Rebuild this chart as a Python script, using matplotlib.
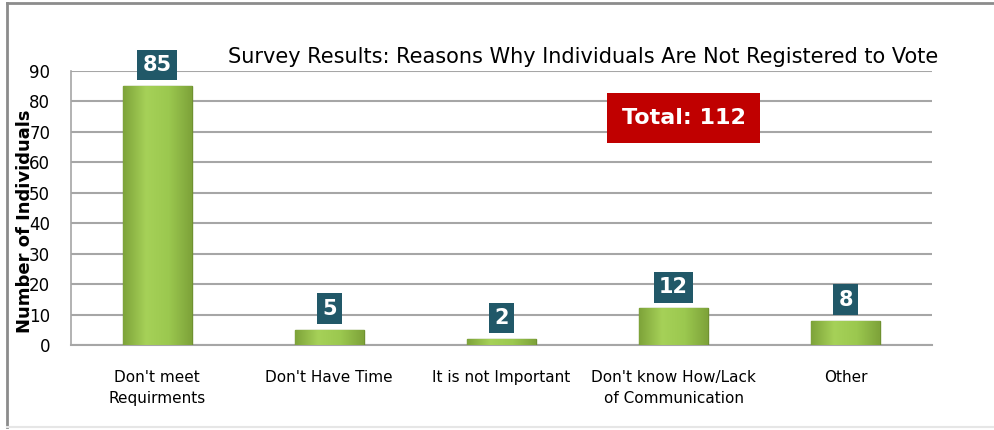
import matplotlib.pyplot as plt
import numpy as np
from matplotlib.patches import Rectangle
from matplotlib.lines import Line2D
from matplotlib.colors import LinearSegmentedColormap

categories = ["Don't meet\nRequirments", "Don't Have Time", "It is not Important",
              "Don't know How/Lack\nof Communication", "Other"]
counts = [85, 5, 2, 12, 8]
y_ticks = [0, 10, 20, 30, 40, 50, 60, 70, 80, 90]
total = 112

fig = plt.figure(figsize=(9.94, 4.30), dpi=100)
ax = fig.add_axes([0.0714, 0.1977, 0.8662, 0.6372])

x = np.arange(len(categories))
bars = ax.bar(x, counts, width=0.4, color='#97C24B', edgecolor='#6F9130', linewidth=1.0, zorder=3)

# shaded look on the bars
green = LinearSegmentedColormap.from_list('g', ['#7EA33A', '#A6D158', '#9BC84F', '#7EA33A'])
grad = np.linspace(0, 1, 100).reshape(1, -1)
for b in bars:
    im = ax.imshow(grad, cmap=green, aspect='auto', zorder=3,
                   extent=[b.get_x(), b.get_x() + b.get_width(), 0, b.get_height()])
    im.set_clip_path(b)

# value labels
for xi, v in zip(x, counts):
    ax.annotate(str(v), (xi, v), xytext=(0, 8), textcoords='offset points',
                ha='center', va='bottom', fontsize=15, fontweight='bold', color='white',
                bbox=dict(boxstyle='square,pad=0.25', facecolor='#215868', edgecolor='none'),
                zorder=5)

ax.set_xlim(-0.5, len(categories) - 0.5)
ax.set_ylim(0, 90)
ax.set_yticks(y_ticks)
ax.set_xticks(x)
ax.set_xticklabels(categories, fontsize=11, linespacing=1.5)
ax.tick_params(axis='both', length=0, labelsize=12)
ax.tick_params(axis='x', pad=18, labelsize=11)
ax.tick_params(axis='y', pad=15)
ax.grid(axis='y', color='#A6A6A6', linewidth=1.5, zorder=0)
for s in ['top', 'right']:
    ax.spines[s].set_visible(False)
ax.spines['left'].set_color('#A6A6A6')
ax.spines['bottom'].set_color('#A6A6A6')
ax.spines['left'].set_linewidth(1.2)
ax.spines['bottom'].set_linewidth(1.5)

ax.set_ylabel('Number of Individuals', fontsize=13, fontweight='bold')
ax.yaxis.set_label_coords(-0.043, 0.45)

fig.text(0.5865, 0.867, 'Survey Results: Reasons Why Individuals Are Not Registered to Vote',
         ha='center', va='center', fontsize=15)

# total box
fig.patches.append(Rectangle((607 / 994, 1 - 143 / 430), 153 / 994, 50 / 430,
                             transform=fig.transFigure, facecolor='#C00000', edgecolor='none'))
fig.text(0.6876, 0.7256, 'Total: %d' % total, ha='center', va='center', fontsize=16,
         fontweight='bold', color='white')

# outer frame
fig.add_artist(Line2D([7 / 994, 7 / 994], [3 / 430, 1 - 3 / 430], transform=fig.transFigure,
                      color='#8C8C8C', linewidth=2))
fig.add_artist(Line2D([7 / 994, 1], [1 - 3 / 430, 1 - 3 / 430], transform=fig.transFigure,
                      color='#8C8C8C', linewidth=2))
fig.add_artist(Line2D([7 / 994, 1], [3 / 430, 3 / 430], transform=fig.transFigure,
                      color='#E6E6E6', linewidth=1.5))

fig.savefig('out.png', dpi=100)
